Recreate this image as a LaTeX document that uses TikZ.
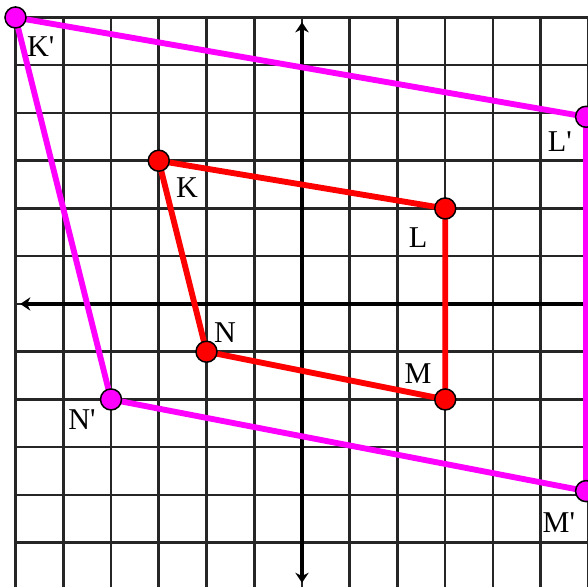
\documentclass[tikz,border=0pt]{standalone}
\usepackage{fontspec}
\setmainfont{Liberation Serif}
\usetikzlibrary{arrows.meta}
\definecolor{mag}{RGB}{255,0,255}
\definecolor{rd}{RGB}{255,0,0}
\begin{document}
\begin{tikzpicture}[
  gridline/.style={line width=1.5pt,black!85},
  axisline/.style={line width=2.9pt,black,{Stealth[length=6pt,width=8pt]}-{Stealth[length=6pt,width=8pt]}},
  redline/.style={line width=3.5pt,rd,line join=round},
  magline/.style={line width=3.5pt,mag,line join=round},
  reddot/.style={circle,draw=black,line width=0.9pt,fill=rd,minimum size=0.44cm,inner sep=0pt},
  magdot/.style={circle,draw=black,line width=0.9pt,fill=mag,minimum size=0.44cm,inner sep=0pt},
  lab/.style={inner sep=0pt,font=\fontsize{18}{20}\selectfont}
]
\useasboundingbox (-6.325,-5.927) rectangle (5.99,6.366);
\fill[white] (-6.325,-5.927) rectangle (5.99,6.366);
\clip (-6.325,-5.927) rectangle (5.99,6.366);
\draw[gridline] (-6,-6) grid (6,6);
\coordinate (xl) at (-5.9,0);
\coordinate (xr) at (6.3,0);
\coordinate (yb) at (0,-5.84);
\coordinate (yt) at (0,5.9);
\draw[axisline] (xl) -- (xr);
\draw[axisline] (yb) -- (yt);
% original figure
\coordinate (K) at (-3,3);
\coordinate (L) at (3,2);
\coordinate (M) at (3,-2);
\coordinate (N) at (-2,-1);
% image
\coordinate (K1) at (-6,6);
\coordinate (L1) at (5.95,3.92);
\coordinate (M1) at (5.95,-3.92);
\coordinate (N1) at (-4,-2);
\draw[magline] (K1) -- (L1) -- (M1) -- (N1) -- cycle;
\draw[redline] (K) -- (L) -- (M) -- (N) -- cycle;
\node[magdot] (K1d) at (K1) {};
\node[magdot] (L1d) at (L1) {};
\node[magdot] (M1d) at (M1) {};
\node[magdot] (N1d) at (N1) {};
\node[reddot] (Kd) at (K) {};
\node[reddot] (Ld) at (L) {};
\node[reddot] (Md) at (M) {};
\node[reddot] (Nd) at (N) {};
\node[lab] (K1l) at (-5.47,5.38) {K\textquotesingle};
\node[lab] (Kl) at (-2.41,2.43) {K};
\node[lab] (Ll) at (2.43,1.38) {L};
\node[lab] (Ml) at (2.43,-1.45) {M};
\node[lab] (Nl) at (-1.61,-0.61) {N};
\node[lab] (N1l) at (-4.61,-2.43) {N\textquotesingle};
\node[lab] (L1l) at (5.40,3.41) {L\textquotesingle};
\node[lab] (M1l) at (5.38,-4.57) {M\textquotesingle};
\end{tikzpicture}
\end{document}
